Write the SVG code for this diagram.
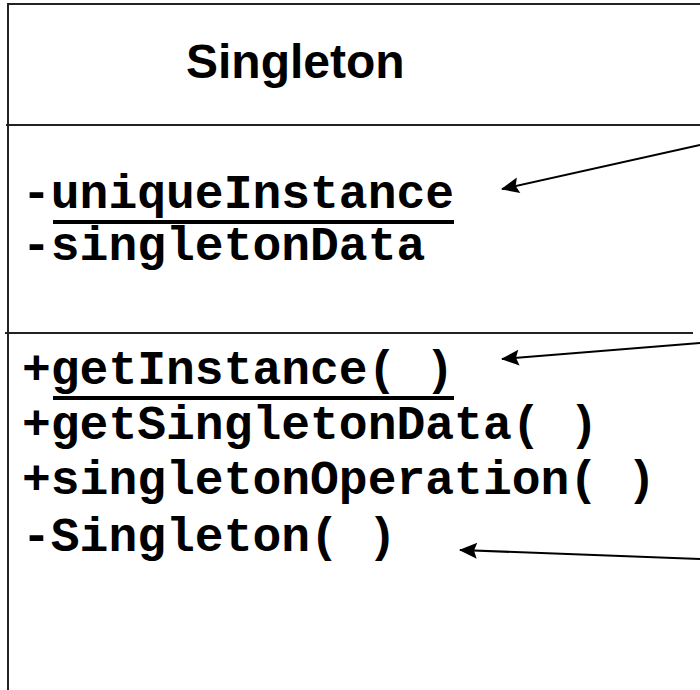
<svg xmlns="http://www.w3.org/2000/svg" width="700" height="690" viewBox="0 0 700 690">
  <defs>
    <marker id="arrow" markerUnits="userSpaceOnUse" markerWidth="20" markerHeight="18" viewBox="0 0 20 18" refX="18" refY="9" orient="auto">
      <path d="M19,9 L1,1 L4,9 L1,17 Z" fill="#000"/>
    </marker>
  </defs>
  <style>
    .frame { fill: none; stroke: #222; stroke-width: 2; }
    .divider { stroke: #222; stroke-width: 2; }
    .title { font-family: "Liberation Sans", Arial, sans-serif; font-weight: bold; font-size: 48px; fill: #000; }
    .member { font-family: "Liberation Mono", "Courier New", monospace; font-weight: bold; font-size: 48px; fill: #000; }
    .uline { stroke: #000; stroke-width: 4; }
    .conn { stroke: #000; stroke-width: 2; fill: none; }
  </style>
  <rect width="700" height="690" fill="#fff"/>
  <g id="singleton">
    <rect class="frame" x="8" y="4" width="720" height="720"/>
    <line class="divider" x1="6" y1="125" x2="700" y2="125"/>
    <line class="divider" x1="5" y1="333" x2="693" y2="333"/>
    <text class="title" x="186" y="78">Singleton</text>
    <text class="member" x="22" y="208">-uniqueInstance</text>
    <line class="uline" x1="53" y1="222" x2="454" y2="222"/>
    <text class="member" x="22" y="260">-singletonData</text>
    <text class="member" x="22" y="384">+getInstance( )</text>
    <line class="uline" x1="53" y1="398" x2="454" y2="398"/>
    <text class="member" x="22" y="439">+getSingletonData( )</text>
    <text class="member" x="22" y="494">+singletonOperation( )</text>
    <text class="member" x="22" y="551">-Singleton( )</text>
  </g>
  <g id="connectors">
    <line class="conn" x1="700" y1="145" x2="502" y2="189" marker-end="url(#arrow)"/>
    <line class="conn" x1="700" y1="343" x2="502" y2="359" marker-end="url(#arrow)"/>
    <line class="conn" x1="700" y1="559" x2="460" y2="550" marker-end="url(#arrow)"/>
  </g>
</svg>
